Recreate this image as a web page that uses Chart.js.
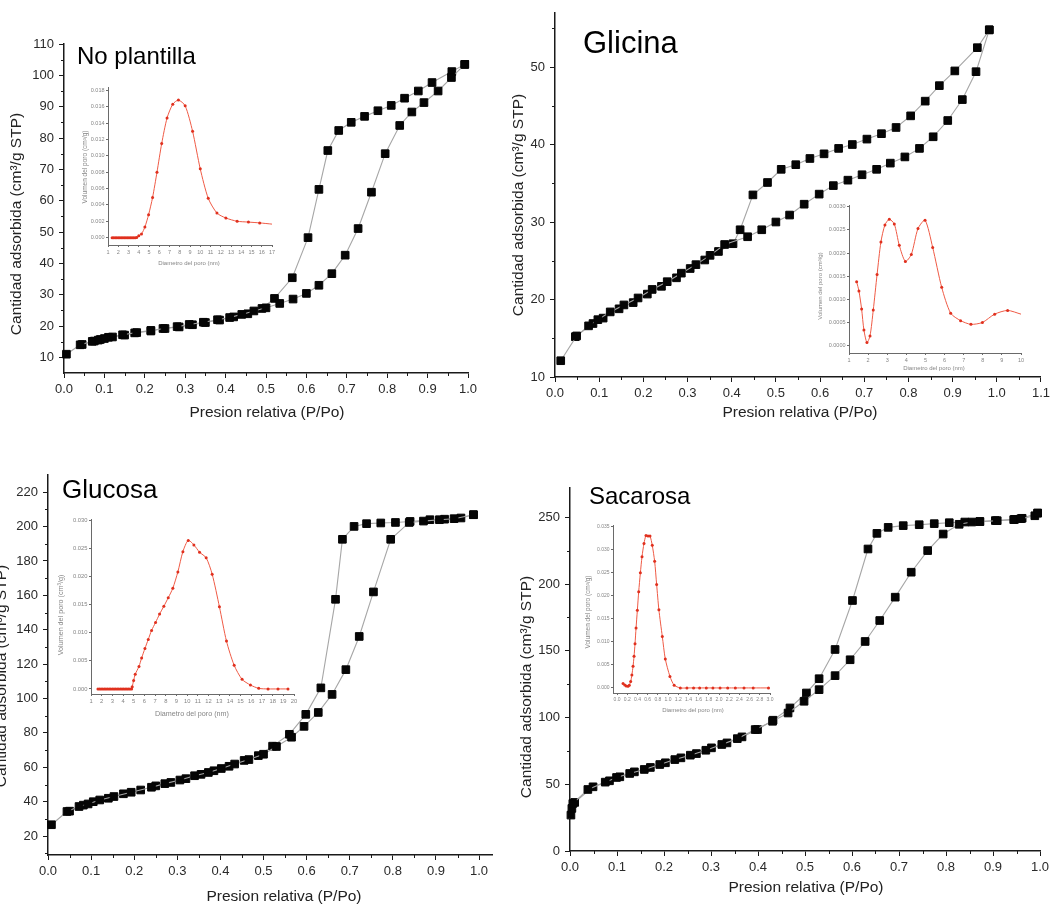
<!DOCTYPE html>
<html>
<head>
<meta charset="utf-8">
<title>Isotermas de adsorción</title>
<script src="https://cdn.jsdelivr.net/npm/chart.js@4.4.1/dist/chart.umd.min.js"></script>
<style>
  body { margin: 0; background: #fff; }
  #page { position: relative; width: 1054px; height: 907px; overflow: hidden; background: #fff; }
  #page canvas { position: absolute; }
</style>
</head>
<body>
<div id="page">
  <canvas id="iso-plantilla" width="510" height="440" style="left:0;top:0"></canvas>
  <canvas id="iso-glicina" width="549" height="440" style="left:505px;top:0"></canvas>
  <canvas id="iso-glucosa" width="505" height="457" style="left:0;top:450px"></canvas>
  <canvas id="iso-sacarosa" width="549" height="457" style="left:505px;top:450px"></canvas>
  <canvas id="poro-plantilla" width="215" height="195" style="left:70px;top:78px"></canvas>
  <canvas id="poro-glicina" width="240" height="185" style="left:805px;top:195px"></canvas>
  <canvas id="poro-glucosa" width="260" height="215" style="left:50px;top:510px"></canvas>
  <canvas id="poro-sacarosa" width="210" height="205" style="left:575px;top:518px"></canvas>
</div>
<script>
// ---- isotherm data: relative pressure (P/Po) and adsorbed volume (cm3/g STP) ----
const plantillaAdsP = [0.006, 0.040, 0.070, 0.085, 0.100, 0.120, 0.145, 0.180, 0.215, 0.250, 0.280, 0.310, 0.345, 0.380, 0.410, 0.440, 0.470, 0.500, 0.534, 0.567, 0.600, 0.631, 0.663, 0.696, 0.728, 0.761, 0.795, 0.831, 0.861, 0.891, 0.926, 0.959, 0.992];
const plantillaAdsV = [11.0, 14.0, 15.1, 15.5, 16.0, 16.5, 17.2, 17.9, 18.6, 19.2, 19.8, 20.5, 21.2, 22.0, 22.7, 23.7, 24.8, 25.8, 27.2, 28.6, 30.4, 33.0, 36.7, 42.6, 51.1, 62.7, 75.0, 84.0, 88.3, 91.3, 95.0, 99.3, 103.5];
const plantillaDesP = [0.992, 0.960, 0.911, 0.877, 0.843, 0.810, 0.777, 0.744, 0.711, 0.680, 0.653, 0.631, 0.604, 0.565, 0.521, 0.490, 0.455, 0.420, 0.385, 0.350, 0.318, 0.285, 0.245, 0.215, 0.175, 0.150, 0.110, 0.090, 0.075, 0.045];
const plantillaDesV = [103.5, 101.2, 97.7, 95.0, 92.7, 90.4, 88.7, 86.9, 85.0, 82.4, 76.0, 63.6, 48.2, 35.4, 28.8, 25.6, 23.9, 22.9, 21.9, 21.1, 20.4, 19.7, 19.2, 18.4, 17.8, 17.1, 16.4, 15.7, 15.2, 14.1];

const glicinaAdsP = [0.013, 0.049, 0.076, 0.097, 0.125, 0.156, 0.188, 0.220, 0.254, 0.286, 0.319, 0.351, 0.384, 0.436, 0.468, 0.500, 0.531, 0.564, 0.598, 0.630, 0.663, 0.695, 0.728, 0.759, 0.792, 0.825, 0.856, 0.889, 0.922, 0.953, 0.983];
const glicinaAdsV = [12.1, 15.3, 16.6, 17.4, 18.4, 19.3, 20.2, 21.3, 22.3, 23.4, 24.5, 25.7, 27.1, 28.1, 29.0, 30.0, 30.9, 32.3, 33.6, 34.7, 35.4, 36.1, 36.8, 37.6, 38.4, 39.5, 41.0, 43.1, 45.8, 49.4, 54.8];
const glicinaDesP = [0.983, 0.956, 0.905, 0.870, 0.838, 0.805, 0.772, 0.739, 0.706, 0.673, 0.642, 0.609, 0.577, 0.545, 0.512, 0.481, 0.448, 0.419, 0.403, 0.370, 0.339, 0.306, 0.275, 0.241, 0.209, 0.177, 0.145, 0.109, 0.086, 0.046];
const glicinaDesV = [54.8, 52.5, 49.5, 47.6, 45.6, 43.7, 42.2, 41.4, 40.7, 40.0, 39.5, 38.8, 38.2, 37.4, 36.8, 35.1, 33.5, 29.0, 27.2, 26.2, 25.1, 24.0, 22.8, 21.7, 20.7, 19.6, 18.8, 17.6, 16.9, 15.2];

const glucosaAdsP = [0.008, 0.044, 0.072, 0.093, 0.120, 0.153, 0.193, 0.240, 0.271, 0.306, 0.340, 0.372, 0.402, 0.433, 0.466, 0.500, 0.530, 0.565, 0.594, 0.627, 0.659, 0.691, 0.722, 0.755, 0.795, 0.838, 0.871, 0.908, 0.942, 0.987];
const glucosaAdsV = [26.6, 34.3, 37.2, 38.7, 41.0, 43.0, 45.5, 48.4, 50.5, 52.6, 55.1, 57.0, 59.3, 61.9, 64.5, 67.6, 72.1, 77.5, 83.8, 91.9, 102.4, 116.8, 136.1, 162.0, 192.6, 202.4, 203.2, 204.0, 204.6, 206.9];
const glucosaDesP = [0.987, 0.958, 0.920, 0.886, 0.840, 0.806, 0.772, 0.739, 0.710, 0.683, 0.667, 0.633, 0.598, 0.560, 0.521, 0.488, 0.455, 0.420, 0.385, 0.355, 0.320, 0.285, 0.250, 0.215, 0.175, 0.140, 0.105, 0.082, 0.050];
const glucosaDesV = [206.9, 205.0, 204.3, 204.0, 203.0, 202.4, 202.1, 201.7, 200.1, 192.6, 157.7, 106.2, 90.8, 79.2, 72.3, 66.8, 64.0, 60.6, 58.0, 55.9, 53.4, 51.2, 49.2, 46.8, 44.6, 42.0, 40.0, 38.0, 34.5];

const sacarosaAdsP = [0.002, 0.004, 0.006, 0.038, 0.075, 0.099, 0.127, 0.158, 0.191, 0.223, 0.256, 0.289, 0.323, 0.356, 0.394, 0.431, 0.464, 0.498, 0.530, 0.564, 0.596, 0.628, 0.659, 0.692, 0.726, 0.761, 0.794, 0.828, 0.855, 0.872, 0.909, 0.944, 0.959, 0.989, 0.995];
const sacarosaAdsV = [26.9, 31.9, 35.6, 46.1, 51.6, 55.1, 58.1, 61.1, 64.8, 68.5, 71.8, 75.5, 79.8, 84.2, 91.0, 97.2, 103.4, 112.2, 120.9, 131.4, 143.3, 157.0, 172.7, 190.2, 208.9, 225.1, 237.5, 244.8, 246.5, 246.8, 247.5, 248.3, 249.0, 251.2, 253.2];
const sacarosaDesP = [0.995, 0.962, 0.946, 0.905, 0.872, 0.840, 0.807, 0.775, 0.743, 0.709, 0.677, 0.653, 0.634, 0.601, 0.564, 0.530, 0.503, 0.468, 0.432, 0.399, 0.366, 0.334, 0.301, 0.269, 0.236, 0.203, 0.171, 0.137, 0.106, 0.084, 0.049, 0.010];
const sacarosaDesV = [253.2, 249.3, 248.5, 247.6, 246.9, 246.5, 246.0, 245.3, 244.5, 243.8, 242.5, 238.0, 226.3, 187.7, 151.0, 129.1, 118.4, 107.2, 98.0, 91.0, 85.5, 81.0, 77.3, 73.0, 69.8, 66.1, 62.6, 59.3, 55.6, 52.6, 48.1, 36.4];

// ---- pore size distributions: diameter (nm) and pore volume (cm3/g) ----
const plantillaPoroD = [1.40, 1.55, 1.70, 1.85, 2.00, 2.15, 2.30, 2.45, 2.60, 2.75, 2.90, 3.05, 3.20, 3.35, 3.50, 3.65, 3.80, 4.00, 4.27, 4.60, 4.96, 5.35, 5.78, 6.24, 6.76, 7.32, 7.87, 8.53, 9.25, 10.00, 10.78, 11.63, 12.50, 13.60, 14.70, 15.80, 17.00];
const plantillaPoroV = [0, 0, 0, 0, 0, 0, 0, 0, 0, 0, 0, 0, 0, 0, 0, 0, 0.00003, 0.00024, 0.00045, 0.0013, 0.0028, 0.0049, 0.0080, 0.0115, 0.0146, 0.0163, 0.0168, 0.0161, 0.0130, 0.0084, 0.0048, 0.0030, 0.0024, 0.0020, 0.0019, 0.0018, 0.00165];

const glicinaPoroD = [1.40, 1.52, 1.66, 1.78, 1.94, 2.10, 2.27, 2.47, 2.67, 2.88, 3.11, 3.37, 3.63, 3.95, 4.26, 4.61, 4.98, 5.38, 5.85, 6.32, 6.84, 7.38, 7.98, 8.62, 9.30, 10.00];
const glicinaPoroV = [0.00138, 0.00118, 0.00079, 0.00034, 0.000065, 0.00021, 0.00077, 0.00154, 0.00224, 0.00261, 0.00273, 0.00263, 0.00217, 0.00182, 0.00197, 0.00253, 0.00271, 0.00212, 0.00126, 0.00070, 0.00054, 0.00046, 0.00050, 0.00068, 0.00076, 0.00068];

const glucosaPoroD = [1.65, 1.80, 1.95, 2.10, 2.25, 2.40, 2.55, 2.70, 2.85, 3.00, 3.15, 3.30, 3.45, 3.60, 3.75, 3.90, 4.05, 4.20, 4.35, 4.50, 4.65, 4.80, 4.86, 4.99, 5.14, 5.49, 5.74, 6.05, 6.36, 6.67, 7.04, 7.42, 7.82, 8.23, 8.66, 9.13, 9.60, 10.10, 10.63, 11.16, 11.78, 12.34, 13.02, 13.68, 14.40, 15.14, 15.92, 16.70, 17.57, 18.50, 19.44];
const glucosaPoroV = [0, 0, 0, 0, 0, 0, 0, 0, 0, 0, 0, 0, 0, 0, 0, 0, 0, 0, 0, 0, 0, 0, 0.0004, 0.0015, 0.0026, 0.0040, 0.0055, 0.0072, 0.0088, 0.0104, 0.0118, 0.0133, 0.0147, 0.0162, 0.0179, 0.0208, 0.0244, 0.0264, 0.0256, 0.0243, 0.0233, 0.0204, 0.0146, 0.0085, 0.0042, 0.0017, 0.0007, 0.0001, 0, 0, 0];

const sacarosaPoroD = [0.117, 0.150, 0.180, 0.215, 0.240, 0.267, 0.290, 0.313, 0.333, 0.352, 0.372, 0.398, 0.424, 0.457, 0.489, 0.528, 0.567, 0.607, 0.646, 0.690, 0.737, 0.776, 0.820, 0.887, 0.946, 1.037, 1.120, 1.240, 1.370, 1.500, 1.620, 1.750, 1.880, 2.020, 2.170, 2.320, 2.490, 2.670, 2.970];
const sacarosaPoroV = [0.00094, 0.00065, 0.00043, 0.00036, 0.00058, 0.0014, 0.0028, 0.0047, 0.0069, 0.0096, 0.0130, 0.0169, 0.0209, 0.0250, 0.0285, 0.0314, 0.0331, 0.0330, 0.0330, 0.0310, 0.0275, 0.0225, 0.0170, 0.0112, 0.0063, 0.0025, 0.0006, 0, 0, 0, 0, 0, 0, 0, 0, 0, 0, 0, 0];

const FONT = '"Liberation Sans", Arial, Helvetica, sans-serif';
const Y_TITLE = 'Cantidad adsorbida (cm³/g STP)';
const X_TITLE = 'Presion relativa (P/Po)';
const PORE_Y = 'Volumen del poro (cm³/g)';
const PORE_X = 'Diametro del poro (nm)';

function pts(xs, ys) {
    return xs.map((x, i) => ({ x: x, y: ys[i] }));
}

// padding that puts the plot area at a given spot of the page
function placeArea(canvas, area, yW, xH) {
    const cx = canvas.offsetLeft, cy = canvas.offsetTop;
    return {
        left: area.left - cx - yW,
        top: area.top - cy,
        right: cx + canvas.width - area.right,
        bottom: cy + canvas.height - area.bottom - xH
    };
}

// free text (panel names, axis titles) in page coordinates
function textPlugin(items) {
    return {
        id: 'pageText',
        afterDraw(chart) {
            const ctx = chart.ctx;
            const ox = chart.canvas.offsetLeft, oy = chart.canvas.offsetTop;
            items.forEach(t => {
                ctx.save();
                ctx.translate(t.x - ox, t.y - oy);
                if (t.rotate) ctx.rotate(t.rotate * Math.PI / 180);
                ctx.font = t.size + 'px ' + FONT;
                ctx.fillStyle = t.color || '#111';
                ctx.textAlign = t.align || 'center';
                ctx.textBaseline = t.baseline || 'middle';
                ctx.fillText(t.text, 0, 0);
                ctx.restore();
            });
        }
    };
}

// short ticks halfway between the labelled ones
function minorTickPlugin(len, color) {
    return {
        id: 'minorTicks',
        afterDraw(chart) {
            const ctx = chart.ctx;
            ctx.save();
            ctx.strokeStyle = color;
            ctx.lineWidth = 1;
            ['x', 'y'].forEach(id => {
                const s = chart.scales[id];
                const t = s.ticks;
                if (t.length < 2) return;
                const step = t[1].value - t[0].value;
                const vals = [];
                for (let i = 0; i < t.length - 1; i++) vals.push((t[i].value + t[i + 1].value) / 2);
                const before = t[0].value - step / 2;
                const after = t[t.length - 1].value + step / 2;
                if (before > s.min) vals.unshift(before);
                if (after < s.max) vals.push(after);
                vals.forEach(v => {
                    const p = Math.round(s.getPixelForValue(v)) + 0.5;
                    ctx.beginPath();
                    if (id === 'x') { ctx.moveTo(p, s.top); ctx.lineTo(p, s.top + len); }
                    else { ctx.moveTo(s.right - len, p); ctx.lineTo(s.right, p); }
                    ctx.stroke();
                });
            });
            ctx.restore();
        }
    };
}

function axis(range, look, fitKey, fitSize) {
    return {
        type: 'linear',
        min: range.min,
        max: range.max,
        border: { display: true, color: look.axis, width: look.axisWidth },
        grid: { display: true, drawOnChartArea: false, drawTicks: true, tickLength: look.tick, tickColor: look.axis, tickWidth: 1 },
        ticks: {
            stepSize: range.step,
            includeBounds: false,
            autoSkip: false,
            maxRotation: 0,
            minRotation: 0,
            padding: look.pad,
            color: look.label,
            font: { family: FONT, size: look.size },
            callback: v => Number(v).toFixed(range.digits)
        },
        afterFit: s => { s[fitKey] = fitSize; }
    };
}

const mainLook = { axis: '#1a1a1a', axisWidth: 1.5, tick: 5, pad: 4, label: '#2a2a2a', size: 13 };

function isotherm(id, area, xr, yr, ads, des, texts) {
    const canvas = document.getElementById(id);
    const yW = 36, xH = 30;
    const branch = (label, data) => ({
        label: label,
        data: data,
        showLine: true,
        borderColor: '#a6a6a6',
        borderWidth: 1.1,
        tension: 0,
        pointStyle: 'rect',
        pointRadius: 5.4,
        pointBackgroundColor: '#050505',
        pointBorderColor: '#050505',
        pointBorderWidth: 1,
        clip: false
    });
    return new Chart(canvas, {
        type: 'scatter',
        data: { datasets: [branch('Adsorción', ads), branch('Desorción', des)] },
        options: {
            responsive: false,
            animation: false,
            devicePixelRatio: 1,
            layout: { padding: placeArea(canvas, area, yW, xH) },
            plugins: { legend: { display: false }, tooltip: { enabled: false } },
            scales: {
                x: axis(xr, Object.assign({}, mainLook, { pad: 4 }), 'height', xH),
                y: axis(yr, Object.assign({}, mainLook, { pad: 5 }), 'width', yW)
            }
        },
        plugins: [minorTickPlugin(3, mainLook.axis), textPlugin(texts)]
    });
}

function poreInset(id, area, xr, yr, data, look, texts) {
    const canvas = document.getElementById(id);
    const yW = 22, xH = 12;
    const last = data.length - 1;
    return new Chart(canvas, {
        type: 'scatter',
        data: {
            datasets: [{
                label: 'Volumen del poro',
                data: data,
                showLine: true,
                borderColor: '#ef5a45',
                borderWidth: 1,
                tension: 0.25,
                pointStyle: 'circle',
                pointRadius: ctx => (look.lastDot === false && ctx.dataIndex === last) ? 0 : 1.5,
                pointBackgroundColor: '#e0301e',
                pointBorderWidth: 0,
                clip: false
            }]
        },
        options: {
            responsive: false,
            animation: false,
            devicePixelRatio: 1,
            layout: { padding: placeArea(canvas, area, yW, xH) },
            plugins: { legend: { display: false }, tooltip: { enabled: false } },
            scales: {
                x: axis(xr, { axis: '#6a6a6a', axisWidth: 1, tick: 2, pad: 2, label: '#858585', size: look.size }, 'height', xH),
                y: axis(yr, { axis: '#6a6a6a', axisWidth: 1, tick: 2, pad: 1.5, label: '#858585', size: look.size }, 'width', yW)
            }
        },
        plugins: [textPlugin(texts)]
    });
}

// ---- No plantilla ----
isotherm('iso-plantilla',
    { left: 64, top: 44, right: 468, bottom: 373 },
    { min: 0, max: 1.0, step: 0.1, digits: 1 },
    { min: 5, max: 110, step: 10, digits: 0 },
    pts(plantillaAdsP, plantillaAdsV), pts(plantillaDesP, plantillaDesV),
    [
        { text: 'No plantilla', x: 77, y: 64, size: 24, align: 'left', baseline: 'alphabetic', color: '#000' },
        { text: Y_TITLE, x: 17, y: 224, size: 15.5, rotate: -90, color: '#222' },
        { text: X_TITLE, x: 267, y: 413, size: 15.5, color: '#222' }
    ]);

// ---- Glicina ----
isotherm('iso-glicina',
    { left: 555, top: 12, right: 1043, bottom: 377 },
    { min: 0, max: 1.1, step: 0.1, digits: 1 },
    { min: 10, max: 57, step: 10, digits: 0 },
    pts(glicinaAdsP, glicinaAdsV), pts(glicinaDesP, glicinaDesV),
    [
        { text: 'Glicina', x: 583, y: 53, size: 31, align: 'left', baseline: 'alphabetic', color: '#000' },
        { text: Y_TITLE, x: 519, y: 205, size: 15.5, rotate: -90, color: '#222' },
        { text: X_TITLE, x: 800, y: 413, size: 15.5, color: '#222' }
    ]);

// ---- Glucosa ----
isotherm('iso-glucosa',
    { left: 48, top: 475, right: 492, bottom: 855 },
    { min: 0, max: 1.03, step: 0.1, digits: 1 },
    { min: 9, max: 230, step: 20, digits: 0 },
    pts(glucosaAdsP, glucosaAdsV), pts(glucosaDesP, glucosaDesV),
    [
        { text: 'Glucosa', x: 62, y: 498, size: 26, align: 'left', baseline: 'alphabetic', color: '#000' },
        { text: Y_TITLE, x: 2, y: 676, size: 15.5, rotate: -90, color: '#222' },
        { text: X_TITLE, x: 284, y: 897, size: 15.5, color: '#222' }
    ]);

// ---- Sacarosa ----
isotherm('iso-sacarosa',
    { left: 570, top: 488, right: 1040, bottom: 851 },
    { min: 0, max: 1.0, step: 0.1, digits: 1 },
    { min: 0, max: 272, step: 50, digits: 0 },
    pts(sacarosaAdsP, sacarosaAdsV), pts(sacarosaDesP, sacarosaDesV),
    [
        { text: 'Sacarosa', x: 589, y: 504, size: 24, align: 'left', baseline: 'alphabetic', color: '#000' },
        { text: Y_TITLE, x: 527, y: 687, size: 15.5, rotate: -90, color: '#222' },
        { text: X_TITLE, x: 806, y: 888, size: 15.5, color: '#222' }
    ]);

// ---- pore size insets ----
poreInset('poro-plantilla',
    { left: 108, top: 87, right: 272, bottom: 245 },
    { min: 1, max: 17, step: 1, digits: 0 },
    { min: -0.0009, max: 0.0184, step: 0.002, digits: 3 },
    pts(plantillaPoroD, plantillaPoroV), { size: 5.5, lastDot: false },
    [
        { text: PORE_Y, x: 85, y: 167, size: 6.5, rotate: -90, color: '#858585' },
        { text: PORE_X, x: 189, y: 263, size: 6, color: '#858585' }
    ]);

poreInset('poro-glicina',
    { left: 849, top: 205, right: 1021, bottom: 353 },
    { min: 1, max: 10, step: 1, digits: 0 },
    { min: -0.00016, max: 0.00304, step: 0.0005, digits: 4 },
    pts(glicinaPoroD, glicinaPoroV), { size: 5.5, lastDot: false },
    [
        { text: PORE_Y, x: 820, y: 286, size: 6, rotate: -90, color: '#858585' },
        { text: PORE_X, x: 934, y: 368, size: 6, color: '#858585' }
    ]);

poreInset('poro-glucosa',
    { left: 91, top: 519, right: 294, bottom: 694 },
    { min: 1, max: 20, step: 1, digits: 0 },
    { min: -0.0009, max: 0.0302, step: 0.005, digits: 3 },
    pts(glucosaPoroD, glucosaPoroV), { size: 5.8 },
    [
        { text: PORE_Y, x: 61, y: 615, size: 7.2, rotate: -90, color: '#858585' },
        { text: PORE_X, x: 192, y: 714, size: 7.2, color: '#858585' }
    ]);

poreInset('poro-sacarosa',
    { left: 613, top: 525, right: 770, bottom: 693 },
    { min: -0.08, max: 3.0, step: 0.2, digits: 1 },
    { min: -0.0011, max: 0.0354, step: 0.005, digits: 3 },
    pts(sacarosaPoroD, sacarosaPoroV), { size: 5 },
    [
        { text: PORE_Y, x: 588, y: 612, size: 6.5, rotate: -90, color: '#858585' },
        { text: PORE_X, x: 693, y: 710, size: 6, color: '#858585' }
    ]);
</script>
</body>
</html>
